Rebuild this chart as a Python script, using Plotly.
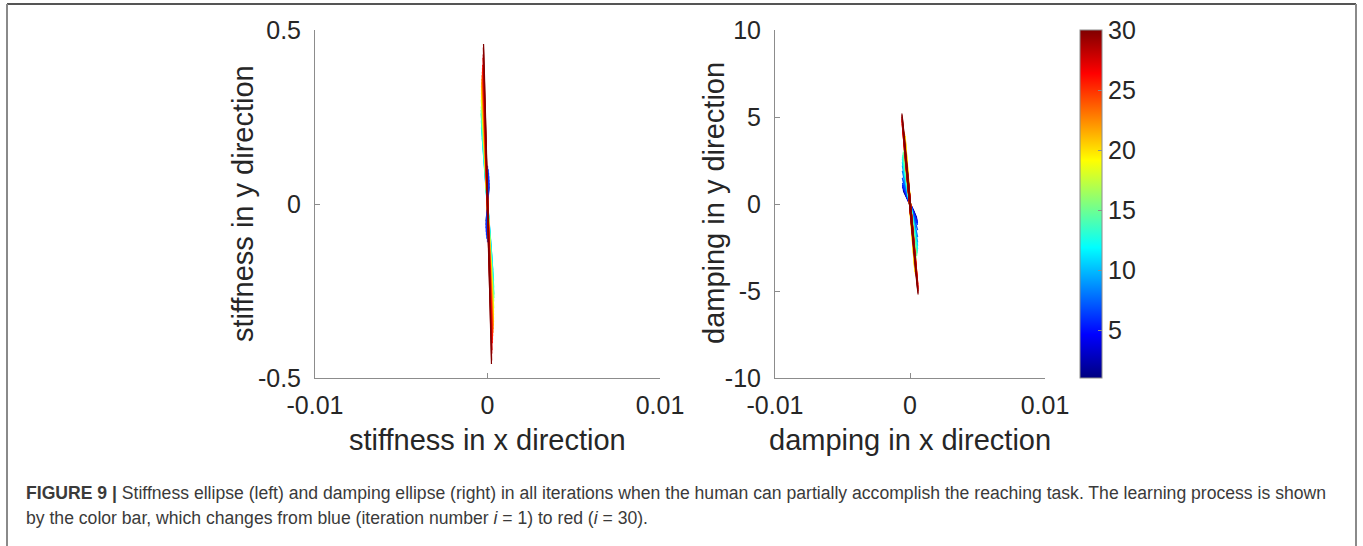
import plotly.graph_objects as go
import numpy as np

W, H = 1363, 546

# ---------------- data ----------------
iterations = list(range(1, 31))

# stiffness ellipse: end point of the major axis (x, y) and minor half-width (x units)
stiff_top_y = [0.05, 0.06, 0.07, 0.08, 0.09, 0.10, 0.11, 0.13, 0.16, 0.19,
               0.22, 0.24, 0.26, 0.27, 0.28, 0.30, 0.31, 0.32, 0.33, 0.34,
               0.35, 0.36, 0.37, 0.38, 0.39, 0.40, 0.42, 0.43, 0.45, 0.46]
stiff_top_x = [0.00008, 0.00008, 0.00008, 0.00007, 0.00006, 0.00004, 0.0, -0.0001, -0.0002, -0.0003,
               -0.00035, -0.00036, -0.00037, -0.00037, -0.00036, -0.00036, -0.00035, -0.00035, -0.00035, -0.00035,
               -0.00034, -0.00033, -0.00032, -0.0003, -0.00029, -0.00028, -0.00026, -0.00025, -0.00024, -0.00023]
stiff_minor = [0.00002] * 30

# damping ellipse
damp_top_y = [0.8, 0.9, 1.0, 1.1, 1.1, 1.2, 1.5, 1.9, 2.2, 2.4,
              2.6, 2.7, 2.8, 2.9, 3.0, 3.2, 3.4, 3.6, 3.8, 3.9,
              4.0, 4.1, 4.3, 4.5, 4.6, 4.8, 4.9, 5.0, 5.1, 5.2]
damp_top_x = [-0.0005, -0.00052, -0.00055, -0.00055, -0.00056, -0.00056, -0.00057, -0.00057, -0.00057, -0.00057,
              -0.00057, -0.00056, -0.00055, -0.00052, -0.0005, -0.00045, -0.00042, -0.0004, -0.00038, -0.00037,
              -0.0004, -0.00045, -0.0005, -0.00055, -0.00058, -0.0006, -0.0006, -0.0006, -0.0006, -0.0006]
damp_minor = [0.00004] * 30

cbar_ticks = [5, 10, 15, 20, 25, 30]
x_ticks = [-0.01, 0, 0.01]
x_ticklabels = ["-0.01", "0", "0.01"]
stiff_yticks = [-0.5, 0, 0.5]
stiff_yticklabels = ["-0.5", "0", "0.5"]
damp_yticks = [-10, -5, 0, 5, 10]
damp_yticklabels = ["-10", "-5", "0", "5", "10"]

caption_line1 = ("<b>FIGURE 9 |</b> Stiffness ellipse (left) and damping ellipse (right) in all iterations "
                 "when the human can partially accomplish the reaching task. The learning process is shown")
caption_line2 = ("by the color bar, which changes from blue (iteration number <i>i</i> = 1) "
                 "to red (<i>i</i> = 30).")

# ---------------- colour map (MATLAB jet) ----------------
jet = [[0.0, "rgb(0,0,128)"], [0.125, "rgb(0,0,255)"], [0.375, "rgb(0,255,255)"],
       [0.625, "rgb(255,255,0)"], [0.875, "rgb(255,0,0)"], [1.0, "rgb(128,0,0)"]]


def jet_color(v, vmin=1, vmax=30):
    t = (v - vmin) / (vmax - vmin)
    for (a, ca), (b, cb) in zip(jet[:-1], jet[1:]):
        if a <= t <= b:
            f = (t - a) / (b - a) if b > a else 0
            c1 = [int(s) for s in ca[4:-1].split(",")]
            c2 = [int(s) for s in cb[4:-1].split(",")]
            c = [round(c1[k] + f * (c2[k] - c1[k])) for k in range(3)]
            return f"rgb({c[0]},{c[1]},{c[2]})"
    return jet[-1][1]


t = np.linspace(0, 2 * np.pi, 121)

# ---------------- layout geometry ----------------
def px(x):
    return x / W


def py(y):
    return 1 - y / H


L_X0, L_X1 = 315, 660
R_X0, R_X1 = 775, 1045
Y_TOP, Y_BOT = 30, 378

fig = go.Figure()

for i, it in enumerate(iterations):
    col = jet_color(it)
    xs = np.cos(t) * stiff_top_x[i] + np.sin(t) * stiff_minor[i]
    ys = np.cos(t) * stiff_top_y[i]
    fig.add_trace(go.Scatter(x=xs, y=ys, mode="lines", line=dict(color=col, width=1.2),
                             xaxis="x", yaxis="y", showlegend=False, hoverinfo="skip"))
    xs = np.cos(t) * damp_top_x[i] + np.sin(t) * damp_minor[i]
    ys = np.cos(t) * damp_top_y[i]
    fig.add_trace(go.Scatter(x=xs, y=ys, mode="lines", line=dict(color=col, width=1.2),
                             xaxis="x2", yaxis="y2", showlegend=False, hoverinfo="skip"))

# colour bar carrier
fig.add_trace(go.Scatter(
    x=[None], y=[None], mode="markers", xaxis="x2", yaxis="y2", showlegend=False,
    marker=dict(color=[1, 30], cmin=1, cmax=30, colorscale=jet, showscale=True,
                colorbar=dict(x=px(1080), xanchor="left", xpad=0, ypad=0,
                              y=py(Y_TOP), yanchor="top", len=Y_BOT - Y_TOP, lenmode="pixels",
                              thickness=22, thicknessmode="pixels",
                              outlinewidth=1, outlinecolor="#8c8c8c",
                              tickvals=cbar_ticks, ticks="inside", ticklen=4, tickcolor="#8c8c8c",
                              tickfont=dict(family="Liberation Sans, Arial", size=25, color="#262626")))))

tickfont = dict(family="Liberation Sans, Arial", size=25, color="#262626")
axis_common = dict(showline=True, linecolor="#8c8c8c", linewidth=1, ticks="inside", ticklen=5,
                   tickcolor="#8c8c8c", showgrid=False, zeroline=False, tickfont=tickfont,
                   mirror=False, fixedrange=True, automargin=False)

fig.update_layout(
    width=W, height=H, margin=dict(l=0, r=0, t=0, b=0, pad=0, autoexpand=False),
    paper_bgcolor="white", plot_bgcolor="white",
    xaxis=dict(domain=[px(L_X0), px(L_X1)], range=[-0.01, 0.01], anchor="y",
               tickvals=x_ticks, ticktext=x_ticklabels, ticklabelstandoff=5, **axis_common),
    yaxis=dict(domain=[py(Y_BOT), py(Y_TOP)], range=[-0.5, 0.5], anchor="x",
               tickvals=stiff_yticks, ticktext=stiff_yticklabels, ticklabelstandoff=8, **axis_common),
    xaxis2=dict(domain=[px(R_X0), px(R_X1)], range=[-0.01, 0.01], anchor="y2",
                tickvals=x_ticks, ticktext=x_ticklabels, ticklabelstandoff=5, **axis_common),
    yaxis2=dict(domain=[py(Y_BOT), py(Y_TOP)], range=[-10, 10], anchor="x2",
                tickvals=damp_yticks, ticktext=damp_yticklabels, ticklabelstandoff=8, **axis_common),
)

titlefont = dict(family="Liberation Sans, Arial", size=29, color="#262626")
ann = [
    dict(text="stiffness in x direction", x=px(487), y=py(440)),
    dict(text="damping in x direction", x=px(910), y=py(440)),
    dict(text="stiffness in y direction", x=px(243), y=py(203), textangle=-90),
    dict(text="damping in y direction", x=px(714), y=py(203), textangle=-90),
]
for a in ann:
    fig.add_annotation(xref="paper", yref="paper", showarrow=False, font=titlefont,
                       xanchor="center", yanchor="middle", **a)

capfont = dict(family="Liberation Sans, Arial", size=17.6, color="#3a3a3a")
fig.add_annotation(xref="paper", yref="paper", x=px(24), y=py(493), xanchor="left", yanchor="middle",
                   text=caption_line1, showarrow=False, font=capfont, align="left")
fig.add_annotation(xref="paper", yref="paper", x=px(24), y=py(518), xanchor="left", yanchor="middle",
                   text=caption_line2, showarrow=False, font=capfont, align="left")

# figure frame
frame = [
    dict(x0=px(7), x1=px(1356), y0=py(4), y1=py(4), line=dict(color="#555555", width=2)),
    dict(x0=px(7), x1=px(7), y0=py(4), y1=0, line=dict(color="#8a8a8a", width=2)),
    dict(x0=px(1356), x1=px(1356), y0=py(4), y1=0, line=dict(color="#8a8a8a", width=2)),
]
for s in frame:
    fig.add_shape(type="line", xref="paper", yref="paper", **s)

fig.write_html("out.html")
